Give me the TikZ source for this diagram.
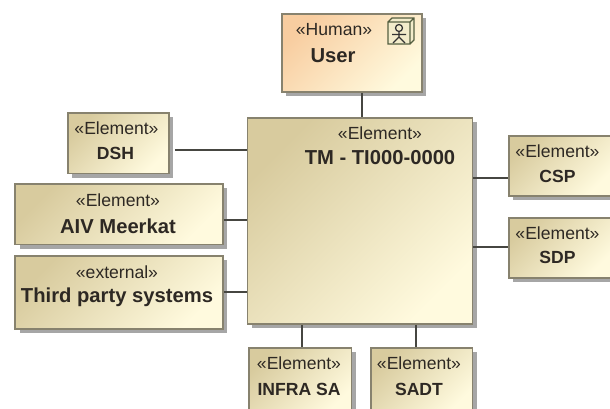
\documentclass[tikz,border=0pt]{standalone}
\usepackage{fontspec}
\setmainfont{Liberation Sans}
\usetikzlibrary{shadows}

\definecolor{edgegray}{RGB}{135,130,110}
\definecolor{linegray}{RGB}{70,70,65}
\definecolor{texttone}{RGB}{45,40,35}
\definecolor{tanlight}{RGB}{216,203,158}
\definecolor{peach}{RGB}{248,205,160}
\definecolor{palecream}{RGB}{255,250,222}
\definecolor{iconline}{RGB}{85,95,65}

\begin{document}
\begin{tikzpicture}[
	block/.style={draw=edgegray, line width=1pt, anchor=north west, inner sep=0pt,
		top color=#1, bottom color=palecream, shading angle=45,
		drop shadow={shadow xshift=0.09cm, shadow yshift=-0.09cm, fill=black, opacity=0.35}},
	block/.default={tanlight},
	stereo/.style={text=texttone, font=\fontsize{10}{12}\selectfont, inner sep=0pt},
	title/.style={text=texttone, font=\fontsize{11.5}{13}\selectfont\bfseries, inner sep=0pt},
	abbrev/.style={title, font=\fontsize{10}{12}\selectfont\bfseries},
	L/.style={draw=linegray, line width=0.7pt}]
	\useasboundingbox (0,0) rectangle (12.2,8.16);

	% blocks
	\node [block=peach, minimum width=2.80cm, minimum height=1.56cm] (user) at (5.62,7.90) {};
	\node [block, minimum width=4.50cm, minimum height=4.12cm] (tm) at (4.93,5.82) {};
	\node [block, minimum width=2.02cm, minimum height=1.21cm] (dsh) at (1.34,5.92) {};
	\node [block, minimum width=4.15cm, minimum height=1.21cm] (aiv) at (0.29,4.50) {};
	\node [block, minimum width=4.15cm, minimum height=1.46cm] (third) at (0.29,3.06) {};
	\node [block, minimum width=2.05cm, minimum height=1.30cm] (infra) at (4.96,1.22) {};
	\node [block, minimum width=2.03cm, minimum height=1.30cm] (sadt) at (7.40,1.22) {};
	\node [block, minimum width=2.03cm, minimum height=1.20cm] (csp) at (10.16,5.46) {};
	\node [block, minimum width=2.03cm, minimum height=1.20cm] (sdp) at (10.16,3.82) {};

	% connectors
	\draw [L] (user.south -| 7.24,0) -- (tm.north -| 7.24,0);
	\draw [L] (dsh.east |- 0,5.16) ++(0.1,0) coordinate (dshend) -- (tm.west |- dshend);
	\draw [L] (aiv.east |- 0,3.76) -- (tm.west |- 0,3.76);
	\draw [L] (third.east |- 0,2.32) -- (tm.west |- 0,2.32);
	\draw [L] (tm.east |- 0,4.60) -- (csp.west |- 0,4.60);
	\draw [L] (tm.east |- 0,3.22) -- (sdp.west |- 0,3.22);
	\draw [L] (tm.south -| 6.04,0) -- (infra.north -| 6.04,0);
	\draw [L] (tm.south -| 8.32,0) -- (sadt.north -| 8.32,0);

	% write labels
	\node [stereo] (userst) at (6.68,7.56) {«Human»};
	\node [title] (usertx) at (6.66,7.05) {User};
	\node [stereo] (tmst) at (7.60,5.50) {«Element»};
	\node [title] (tmtx) at (7.60,5.00) {TM - TI000-0000};
	\node [stereo] (dshst) at (2.33,5.60) {«Element»};
	\node [abbrev] (dshtx) at (2.31,5.10) {DSH};
	\node [stereo] (aivst) at (2.36,4.16) {«Element»};
	\node [title] (aivtx) at (2.36,3.64) {AIV Meerkat};
	\node [stereo] (thirdst) at (2.34,2.72) {«external»};
	\node [title] (thirdtx) at (2.34,2.22) {Third party systems};
	\node [stereo] (infrast) at (5.98,0.90) {«Element»};
	\node [abbrev] (infratx) at (5.98,0.38) {INFRA SA};
	\node [stereo] (sadtst) at (8.38,0.90) {«Element»};
	\node [abbrev] (sadttx) at (8.38,0.38) {SADT};
	\node [stereo] (cspst) at (11.15,5.14) {«Element»};
	\node [abbrev] (csptx) at (11.15,4.64) {CSP};
	\node [stereo] (sdpst) at (11.15,3.50) {«Element»};
	\node [abbrev] (sdptx) at (11.15,3.02) {SDP};

	% actor icon
	\draw [iconline, fill=palecream!70!tanlight, line width=0.7pt]
		(7.76,7.28) rectangle (8.20,7.72)
		(7.76,7.72) -- (7.84,7.80) -- (8.28,7.80) -- (8.28,7.36) -- (8.20,7.28)
		(8.20,7.72) -- (8.28,7.80);
	\draw [black!80, line width=0.7pt] (7.98,7.60) circle (0.07)
		(7.98,7.53) -- (7.98,7.42) -- (7.86,7.30) (7.98,7.42) -- (8.10,7.30)
		(7.84,7.47) -- (8.12,7.47);
\end{tikzpicture}
\end{document}
